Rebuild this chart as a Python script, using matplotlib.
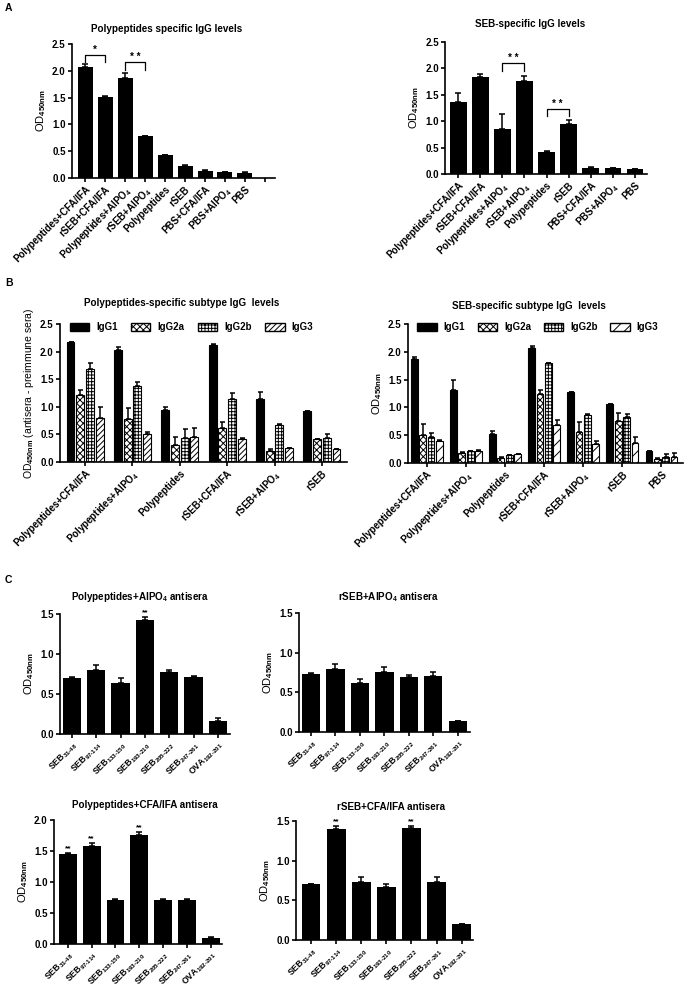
import numpy as np
import matplotlib
matplotlib.use("Agg")
import matplotlib.pyplot as plt
from matplotlib.patches import Patch

plt.rcParams["font.family"] = "Liberation Sans"
plt.rcParams["font.weight"] = "bold"
plt.rcParams["mathtext.fontset"] = "custom"
plt.rcParams["mathtext.rm"] = "Liberation Sans:bold"
plt.rcParams["mathtext.it"] = "Liberation Sans:bold"
plt.rcParams["mathtext.bf"] = "Liberation Sans:bold"
plt.rcParams["mathtext.default"] = "bf"
plt.rcParams["hatch.linewidth"] = 0.7

# ---- panel A data ----
a_groups = ["Polypeptides+CFA/IFA", "rSEB+CFA/IFA", "Polypeptides+AlPO$_4$",
            "rSEB+AlPO$_4$", "Polypeptides", "rSEB", "PBS+CFA/IFA",
            "PBS+AlPO$_4$", "PBS"]
a_pep_mean = [2.07, 1.52, 1.86, 0.78, 0.42, 0.23, 0.13, 0.115, 0.10]
a_pep_err = [0.05, 0.015, 0.09, 0.01, 0.01, 0.01, 0.01, 0.005, 0.005]
a_seb_mean = [1.36, 1.84, 0.85, 1.76, 0.42, 0.945, 0.12, 0.11, 0.095]
a_seb_err = [0.17, 0.06, 0.28, 0.09, 0.01, 0.07, 0.01, 0.005, 0.005]

# ---- panel B data ----
subtypes = ["IgG1", "IgG2a", "IgG2b", "IgG3"]
b_pep_groups = ["Polypeptides+CFA/IFA", "Polypeptides+AlPO$_4$", "Polypeptides",
                "rSEB+CFA/IFA", "rSEB+AlPO$_4$", "rSEB"]
b_pep_igg1 = [2.17, 2.03, 0.95, 2.12, 1.14, 0.925]
b_pep_igg1_err = [0.01, 0.05, 0.05, 0.01, 0.13, 0.005]
b_pep_igg2a = [1.22, 0.78, 0.30, 0.61, 0.20, 0.41]
b_pep_igg2a_err = [0.08, 0.19, 0.15, 0.12, 0.04, 0.01]
b_pep_igg2b = [1.69, 1.375, 0.44, 1.14, 0.67, 0.44]
b_pep_igg2b_err = [0.11, 0.08, 0.15, 0.11, 0.02, 0.06]
b_pep_igg3 = [0.79, 0.50, 0.45, 0.41, 0.25, 0.23]
b_pep_igg3_err = [0.21, 0.05, 0.16, 0.02, 0.01, 0.01]

b_seb_groups = b_pep_groups + ["PBS"]
b_seb_igg1 = [1.87, 1.31, 0.53, 2.07, 1.27, 1.06, 0.21]
b_seb_igg1_err = [0.04, 0.18, 0.04, 0.03, 0.01, 0.01, 0.01]
b_seb_igg2a = [0.50, 0.18, 0.09, 1.25, 0.55, 0.76, 0.08]
b_seb_igg2a_err = [0.21, 0.01, 0.01, 0.06, 0.19, 0.14, 0.01]
b_seb_igg2b = [0.46, 0.21, 0.14, 1.79, 0.87, 0.82, 0.10]
b_seb_igg2b_err = [0.08, 0.01, 0.01, 0.01, 0.01, 0.07, 0.06]
b_seb_igg3 = [0.39, 0.21, 0.16, 0.69, 0.35, 0.36, 0.10]
b_seb_igg3_err = [0.03, 0.02, 0.01, 0.09, 0.05, 0.11, 0.08]

# ---- panel C data ----
peptides = ["SEB$_{31\u201048}$", "SEB$_{97\u2010114}$", "SEB$_{133\u2010150}$",
            "SEB$_{193\u2010210}$", "SEB$_{205\u2010222}$", "SEB$_{247\u2010261}$",
            "OVA$_{192\u2010201}$"]
c_pep_alpo4 = [0.70, 0.80, 0.64, 1.43, 0.775, 0.71, 0.165]
c_pep_alpo4_err = [0.01, 0.06, 0.06, 0.03, 0.025, 0.01, 0.035]
c_rseb_alpo4 = [0.73, 0.80, 0.62, 0.76, 0.69, 0.70, 0.135]
c_rseb_alpo4_err = [0.01, 0.06, 0.05, 0.06, 0.03, 0.06, 0.0]
c_pep_cfa = [1.45, 1.58, 0.715, 1.76, 0.715, 0.715, 0.10]
c_pep_cfa_err = [0.02, 0.05, 0.005, 0.05, 0.005, 0.005, 0.005]
c_rseb_cfa = [0.70, 1.40, 0.73, 0.67, 1.41, 0.73, 0.20]
c_rseb_cfa_err = [0.01, 0.04, 0.06, 0.04, 0.03, 0.06, 0.0]

W, H = 685, 991
fig = plt.figure(figsize=(W / 100, H / 100), dpi=100)


def add_ax(x0, x1, ytop, ybot):
    return fig.add_axes([x0 / W, 1 - ybot / H, (x1 - x0) / W, (ybot - ytop) / H])


def style(ax, ymax, step=0.5, xlim=None):
    for s in ["top", "right"]:
        ax.spines[s].set_visible(False)
    for s in ["left", "bottom"]:
        ax.spines[s].set_linewidth(1.2)
    ax.set_ylim(0, ymax)
    ax.set_yticks(np.arange(0, ymax + 1e-9, step))
    ax.yaxis.set_major_formatter("{x:.1f}")
    ax.tick_params(width=1.2, length=3, pad=1.5)
    ax.tick_params(axis="y", labelsize=7)
    if xlim:
        ax.set_xlim(*xlim)


def title(x, y, s):
    fig.text(x / W, 1 - y / H, s, ha="center", va="center", fontsize=7.1, fontweight="bold")


def up_err(ax, x, mean, err, cap=2.5):
    ax.errorbar(x, mean, yerr=[np.zeros(len(err)), err], fmt="none",
                ecolor="black", elinewidth=1.1, capsize=cap, capthick=1.1)


def bracket(ax, x1, x2, y, drop, txt):
    ax.plot([x1, x1, x2, x2], [y - drop, y, y, y - drop], color="black", lw=0.9)
    ax.text((x1 + x2) / 2, y, txt, ha="center", va="bottom", fontsize=7)


def xlabels(ax, labels, size=7):
    ax.set_xticks(range(len(labels)))
    ax.set_xticklabels(labels, rotation=45, ha="right", rotation_mode="anchor", fontsize=size)


ylab = "OD$_{450nm}$"

# ---------------- A ----------------
fig.text(5 / W, 1 - 8 / H, "A", fontsize=7.5, fontweight="bold", va="center")

ax = add_ax(72, 275, 44, 178)
x = np.arange(len(a_groups))
ax.bar(x, a_pep_mean, width=0.75, color="black")
up_err(ax, x, a_pep_mean, a_pep_err)
style(ax, 2.5, xlim=(-0.65, 9.5))
xlabels(ax, a_groups + [""])
ax.set_ylabel(ylab, fontsize=8, labelpad=3)
bracket(ax, 0, 1, 2.3, 0.14, "*")
bracket(ax, 2, 3, 2.16, 0.14, "* *")
title(167, 29, "Polypeptides specific IgG levels")

ax = add_ax(445, 647, 42, 174)
ax.bar(x, a_seb_mean, width=0.75, color="black")
up_err(ax, x, a_seb_mean, a_seb_err)
style(ax, 2.5, xlim=(-0.6, 8.55))
xlabels(ax, a_groups)
ax.set_ylabel(ylab, fontsize=8, labelpad=3)
bracket(ax, 2, 3, 2.1, 0.14, "* *")
bracket(ax, 4, 5, 1.24, 0.14, "* *")
title(530, 24, "SEB-specific IgG levels")

# ---------------- B ----------------
fig.text(5 / W, 1 - 283 / H, "B", fontsize=7.5, fontweight="bold", va="center")


def grouped(ax, groups, series, errs, hatches, stride, width):
    x = np.arange(len(groups))
    for i, (vals, err, hatch) in enumerate(zip(series, errs, hatches)):
        pos = x + (i - 1.5) * stride
        face = "black" if i == 0 else "white"
        ax.bar(pos, vals, width=width, color=face, edgecolor="black",
               hatch=hatch, linewidth=0.8)
        up_err(ax, pos, vals, err, cap=1.8)
    xlabels(ax, groups, size=7)


hatch_left = [None, "xxxxx", "+++++", "//////"]
ax = add_ax(60, 347, 324, 462)
grouped(ax, b_pep_groups,
        [b_pep_igg1, b_pep_igg2a, b_pep_igg2b, b_pep_igg3],
        [b_pep_igg1_err, b_pep_igg2a_err, b_pep_igg2b_err, b_pep_igg3_err],
        hatch_left, 0.205, 0.165)
style(ax, 2.5, xlim=(-0.53, 5.53))
ax.set_ylabel(ylab + " (antisera - preimmune sera)", fontsize=7.5, labelpad=3)
handles = [Patch(facecolor="black" if i == 0 else "white", edgecolor="black", hatch=h)
           for i, h in enumerate(hatch_left)]
ax.legend(handles, subtypes, ncol=4, loc="center left", bbox_to_anchor=(0.02, 0.975),
          frameon=False, fontsize=7, handlelength=2.0, handleheight=0.8,
          columnspacing=1.4, handletextpad=0.7, borderaxespad=0)
title(182, 303, "Polypeptides-specific subtype IgG  levels")

hatch_right = [None, "xxxxx", "+++++", "///"]
ax = add_ax(408, 683, 324, 463)
grouped(ax, b_seb_groups,
        [b_seb_igg1, b_seb_igg2a, b_seb_igg2b, b_seb_igg3],
        [b_seb_igg1_err, b_seb_igg2a_err, b_seb_igg2b_err, b_seb_igg3_err],
        hatch_right, 0.214, 0.175)
style(ax, 2.5, xlim=(-0.48, 6.55))
ax.set_ylabel(ylab, fontsize=8, labelpad=3)
handles = [Patch(facecolor="black" if i == 0 else "white", edgecolor="black", hatch=h)
           for i, h in enumerate(hatch_right)]
ax.legend(handles, subtypes, ncol=4, loc="center left", bbox_to_anchor=(0.02, 0.975),
          frameon=False, fontsize=7, handlelength=2.0, handleheight=0.8,
          columnspacing=1.3, handletextpad=0.7, borderaxespad=0)
title(529, 306, "SEB-specific subtype IgG  levels")

# ---------------- C ----------------
fig.text(5 / W, 1 - 580 / H, "C", fontsize=7.5, fontweight="bold", va="center")


def c_panel(box, vals, err, ymax, stars, xlim, ttl, tpos):
    ax = add_ax(*box)
    x = np.arange(len(peptides))
    ax.bar(x, vals, width=0.75, color="black")
    up_err(ax, x, vals, err)
    style(ax, ymax, xlim=xlim)
    xlabels(ax, peptides, size=6.3)
    ax.tick_params(axis="x", pad=1)
    ax.set_ylabel(ylab, fontsize=8, labelpad=3)
    for i in stars:
        ax.text(i, vals[i] + err[i] + ymax * 0.005, "**", ha="center", va="bottom", fontsize=6)
    title(tpos[0], tpos[1], ttl)


c_panel((60, 230, 614, 734), c_pep_alpo4, c_pep_alpo4_err, 1.5, [3], (-0.49, 6.5),
        "Polypeptides+AlPO$_4$ antisera", (140, 597))
c_panel((299, 470, 613, 732), c_rseb_alpo4, c_rseb_alpo4_err, 1.5, [], (-0.49, 6.5),
        "rSEB+AlPO$_4$ antisera", (388, 597))
c_panel((54, 222, 820, 944), c_pep_cfa, c_pep_cfa_err, 2.0, [0, 1, 3], (-0.58, 6.47),
        "Polypeptides+CFA/IFA antisera", (145, 805))
c_panel((296, 473, 821, 940), c_rseb_cfa, c_rseb_cfa_err, 1.5, [1, 4], (-0.6, 6.45),
        "rSEB+CFA/IFA antisera", (391, 807))

fig.savefig("out.png", dpi=100)
